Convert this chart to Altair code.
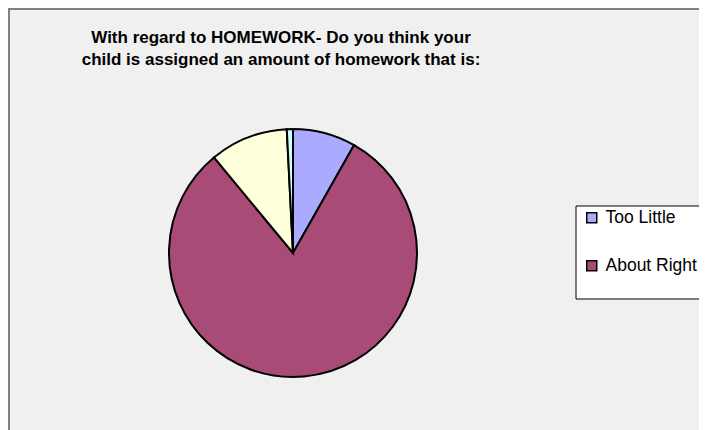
import altair as alt
import pandas as pd

# ---- data ----
categories = ["Too Little", "About Right", "Too Much", "No Opinion"]
percentages = [8.2, 80.8, 10.2, 0.8]
slice_colors = ["#aaaaff", "#a94b77", "#ffffdb", "#cdfcff"]
legend_shown = ["Too Little", "About Right"]
title_lines = [
    "With regard to HOMEWORK- Do you think your",
    "child is assigned an amount of homework that is:",
]

df = pd.DataFrame({
    "category": categories,
    "percent": percentages,
    "order": list(range(len(categories))),
})

W, H = 691, 422

border = alt.Chart(pd.DataFrame({"k": [0]})).mark_rect(
    fill="#f0f0f0", stroke="#808080", strokeWidth=2
).encode(
    x=alt.value(1), x2=alt.value(W + 20), y=alt.value(1), y2=alt.value(H + 20)
)

legend_frame = alt.Chart(pd.DataFrame({"k": [0]})).mark_rect(
    fill="white", stroke="black", strokeWidth=1
).encode(
    x=alt.value(568), x2=alt.value(W + 20), y=alt.value(198), y2=alt.value(291)
)

pie = alt.Chart(df).mark_arc(
    outerRadius=124, stroke="black", strokeWidth=2
).encode(
    x=alt.value(285),
    y=alt.value(245),
    theta=alt.Theta("percent:Q", stack=True),
    order=alt.Order("order:Q", sort="ascending"),
    color=alt.Color(
        "category:N",
        scale=alt.Scale(domain=categories, range=slice_colors),
        sort=categories,
        legend=alt.Legend(
            orient="none",
            legendX=575,
            legendY=201,
            title=None,
            values=legend_shown,
            symbolType="square",
            symbolSize=100,
            symbolStrokeColor="black",
            symbolStrokeWidth=1.5,
            symbolOpacity=1,
            labelFont="Liberation Sans",
            labelFontSize=17.5,
            labelColor="black",
            labelOffset=5,
            rowPadding=29,
            padding=0,
        ),
    ),
)

chart = alt.layer(border, legend_frame, pie).properties(
    width=W,
    height=H,
    autosize=alt.AutoSizeParams(type="none"),
    padding=0,
    background="#f0f0f0",
    title=alt.TitleParams(
        text=title_lines,
        font="Liberation Sans",
        fontSize=17,
        fontWeight="bold",
        color="black",
        lineHeight=22,
        anchor="middle",
        offset=0,
        dx=-72.5,
        dy=61,
    ),
).configure_view(stroke=None)

chart.save("out.html", embed_options={"renderer": "svg", "actions": False})
